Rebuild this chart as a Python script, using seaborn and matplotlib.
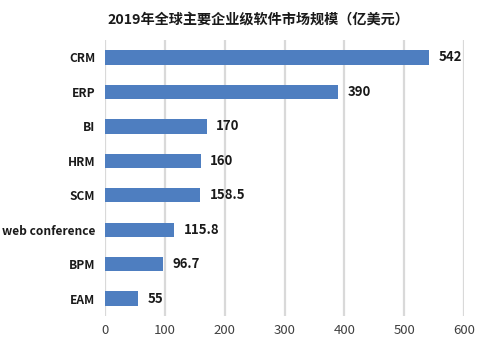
import matplotlib
matplotlib.use("Agg")
import matplotlib.pyplot as plt
import seaborn as sns
import pandas as pd

categories = ["CRM", "ERP", "BI", "HRM", "SCM", "web conference", "BPM", "EAM"]
values = [542, 390, 170, 160, 158.5, 115.8, 96.7, 55]
value_labels = ["542", "390", "170", "160", "158.5", "115.8", "96.7", "55"]
xticks = [0, 100, 200, 300, 400, 500, 600]
title = "2019年全球主要企业级软件市场规模（亿美元）"

sns.set_theme(style="white")
plt.rcParams['font.family'] = ['Noto Sans CJK SC', 'DejaVu Sans']

df = pd.DataFrame({"cat": categories, "val": values})

fig = plt.figure(figsize=(4.84, 3.48), dpi=100)
ax = fig.add_axes([0.217, 0.092, 0.742, 0.793])
sns.barplot(data=df, x="val", y="cat", color="#4E7EC0", saturation=1, width=0.42,
            linewidth=0, ax=ax, zorder=3)

ax.set_xlim(0, 600)
ax.set_xticks(xticks)
ax.set_xticklabels([str(t) for t in xticks], fontsize=9.5, color="#404040")
ax.set_ylim(7.5, -0.5)
ax.set_xlabel("")
ax.set_ylabel("")
for t in xticks:
    ax.axvline(t, color="#D9D9D9", lw=1.6, zorder=1)
for s in ax.spines.values():
    s.set_visible(False)
ax.tick_params(axis="both", length=0)
ax.tick_params(axis="x", pad=6)
ax.tick_params(axis="y", pad=7)
for lbl in ax.get_yticklabels():
    lbl.set_fontweight("bold")
    lbl.set_fontsize(8.6)
    lbl.set_color("#1a1a1a")

for i, (v, s) in enumerate(zip(values, value_labels)):
    ax.text(v + 16, i, s, va="center", ha="left", fontsize=9.5, fontweight="bold", color="#1a1a1a")

fig.text(0.533, 0.945, title, ha="center", va="center", fontsize=10.2, fontweight="bold", color="#1a1a1a")

fig.savefig("out.png", dpi=100)
